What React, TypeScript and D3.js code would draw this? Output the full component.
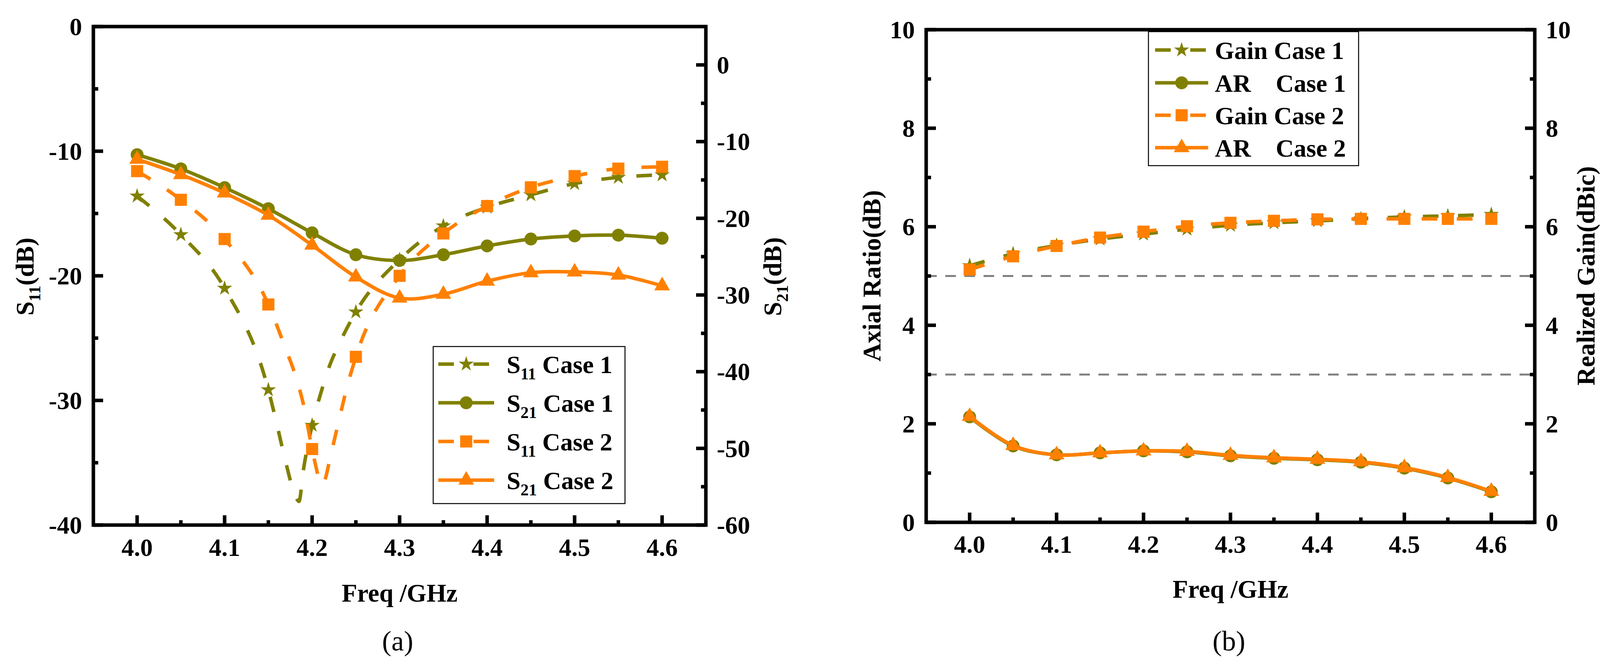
import * as d3 from "d3";

const W = 4137;
const H = 1715;
const OLIVE = "#808000";
const ORANGE = "#FF8000";
const FONT = "Liberation Serif";

// shared frequency grid (GHz)
const freqs = [4.0, 4.05, 4.1, 4.15, 4.2, 4.25, 4.3, 4.35, 4.4, 4.45, 4.5, 4.55, 4.6];
const xTicks = [4.0, 4.1, 4.2, 4.3, 4.4, 4.5, 4.6];
const xMinor = [4.05, 4.15, 4.25, 4.35, 4.45, 4.55];

// panel (a): S-parameters
const s11Case1 = [-13.6, -16.7, -21.0, -29.15, -32.0, -22.9, -18.7, -16.0, -14.5, -13.5, -12.6, -12.1, -11.9];
const s11Case1Dip: [number, number][] = [
  [4.16, -32.0], [4.17, -35.0], [4.18, -37.5], [4.185, -38.1], [4.19, -35.6],
  [4.21, -29.4], [4.22, -27.2], [4.23, -25.6],
];
const s21Case1 = [-11.7, -13.55, -16.0, -18.75, -21.9, -24.75, -25.5, -24.75, -23.6, -22.7, -22.3, -22.2, -22.6];
const s11Case2 = [-11.6, -13.9, -17.05, -22.3, -33.9, -26.5, -20.0, -16.6, -14.4, -12.9, -12.0, -11.4, -11.25];
const s11Case2Dip: [number, number][] = [
  [4.17, -25.9], [4.18, -27.8], [4.19, -30.3], [4.205, -35.5], [4.21, -36.8],
  [4.215, -36.3], [4.22, -34.8], [4.23, -31.8], [4.24, -28.9],
];
const s21Case2 = [-12.3, -14.3, -16.7, -19.6, -23.5, -27.65, -30.4, -29.9, -28.2, -27.1, -27.0, -27.4, -28.8];
const aLeftTicks = [-40, -30, -20, -10, 0];
const aLeftMinor = [-35, -25, -15, -5];
const aRightTicks = [-60, -50, -40, -30, -20, -10, 0];
const aRightMinor = [-55, -45, -35, -25, -15, -5];

// panel (b): gain and axial ratio
const gainCase1 = [5.21, 5.45, 5.62, 5.75, 5.85, 5.95, 6.03, 6.08, 6.12, 6.16, 6.2, 6.22, 6.25];
const arCase1 = [2.14, 1.55, 1.37, 1.41, 1.45, 1.43, 1.35, 1.3, 1.27, 1.22, 1.1, 0.9, 0.62];
const gainCase2 = [5.13, 5.4, 5.61, 5.78, 5.9, 6.01, 6.08, 6.12, 6.15, 6.16, 6.16, 6.16, 6.16];
const arCase2 = [2.15, 1.56, 1.37, 1.41, 1.45, 1.44, 1.36, 1.31, 1.28, 1.23, 1.11, 0.91, 0.63];
const bTicks = [0, 2, 4, 6, 8, 10];
const bMinor = [1, 3, 5, 7, 9];
const refLines = [5, 3];

type Sym = "star" | "circle" | "square" | "triangle";
type Scale = d3.ScaleLinear<number, number>;

const symbolOf: Record<Sym, d3.SymbolType> = {
  star: d3.symbolStar,
  circle: d3.symbolCircle,
  square: d3.symbolSquare,
  triangle: d3.symbolTriangle,
};
const sizeOf: Record<Sym, number> = { star: 470, circle: 850, square: 961, triangle: 700 };
const symPath = (s: Sym) => d3.symbol().type(symbolOf[s]).size(sizeOf[s])() || "";

interface Series {
  values: number[];
  extra?: [number, number][];
  axis: "left" | "right";
  color: string;
  dashed: boolean;
  sym: Sym;
}

interface Frame {
  x0: number;
  x1: number;
  y0: number;
  y1: number;
}

const DASH = "40 50";
const txt = { fontFamily: FONT, fontWeight: 700 as const, fill: "#000" };

function Axes({
  f, x, yL, yR, left, leftMinor, right, rightMinor, xLabelDy,
}: {
  f: Frame; x: Scale; yL: Scale; yR: Scale;
  left: number[]; leftMinor: number[]; right: number[]; rightMinor: number[]; xLabelDy: number;
}) {
  const tick = (key: string, x1: number, y1: number, x2: number, y2: number) => (
    <line key={key} x1={x1} y1={y1} x2={x2} y2={y2} stroke="#000" strokeWidth={9} />
  );
  return (
    <g>
      {xTicks.map((v) => tick(`xt${v}`, x(v), f.y1, x(v), f.y1 - 25))}
      {xMinor.map((v) => tick(`xm${v}`, x(v), f.y1, x(v), f.y1 - 12.5))}
      {left.map((v) => tick(`lt${v}`, f.x0, yL(v), f.x0 + 25, yL(v)))}
      {leftMinor.map((v) => tick(`lm${v}`, f.x0, yL(v), f.x0 + 12.5, yL(v)))}
      {right.map((v) => tick(`rt${v}`, f.x1, yR(v), f.x1 - 25, yR(v)))}
      {rightMinor.map((v) => tick(`rm${v}`, f.x1, yR(v), f.x1 - 12.5, yR(v)))}
      <rect x={f.x0} y={f.y0} width={f.x1 - f.x0} height={f.y1 - f.y0} fill="none" stroke="#000" strokeWidth={9} />
      {xTicks.map((v) => (
        <text key={`xl${v}`} x={x(v)} y={f.y1 + xLabelDy} textAnchor="middle" fontSize={64} style={txt}>
          {v.toFixed(1)}
        </text>
      ))}
      {left.map((v) => (
        <text key={`ll${v}`} x={f.x0 - 29} y={yL(v) + 22} textAnchor="end" fontSize={64} style={txt}>
          {String(v)}
        </text>
      ))}
      {right.map((v) => (
        <text key={`rl${v}`} x={f.x1 + 28} y={yR(v) + 22} textAnchor="start" fontSize={64} style={txt}>
          {String(v)}
        </text>
      ))}
    </g>
  );
}

function Curves({ list, x, yL, yR, curveFor }: {
  list: Series[]; x: Scale; yL: Scale; yR: Scale; curveFor: (s: Series) => d3.CurveFactory;
}) {
  return (
    <g>
      {list.map((s, si) => {
        const y = s.axis === "left" ? yL : yR;
        const pts: [number, number][] = freqs.map((f, i) => [f, s.values[i]] as [number, number]);
        const all = pts.concat(s.extra || []).sort((a, b) => a[0] - b[0]);
        const line = d3
          .line<[number, number]>()
          .x((d) => x(d[0]))
          .y((d) => y(d[1]))
          .curve(curveFor(s));
        const mark = symPath(s.sym);
        return (
          <g key={si}>
            <path d={line(all) || ""} fill="none" stroke={s.color} strokeWidth={9} strokeDasharray={s.dashed ? DASH : undefined} />
            {pts.map((d, i) => (
              <path key={i} d={mark} fill={s.color} transform={`translate(${x(d[0])},${y(d[1])})`} />
            ))}
          </g>
        );
      })}
    </g>
  );
}

interface LegendEntry {
  color: string;
  dashed: boolean;
  sym: Sym;
  label: () => JSX.Element;
}

function Legend({ box, rows, sample, textX, entries }: {
  box: Frame; rows: number[]; sample: [number, number]; textX: number; entries: LegendEntry[];
}) {
  const mx = (sample[0] + sample[1]) / 2;
  return (
    <g>
      <rect x={box.x0} y={box.y0} width={box.x1 - box.x0} height={box.y1 - box.y0} fill="#fff" stroke="#000" strokeWidth={2.5} />
      {entries.map((e, i) => (
        <g key={i}>
          <line x1={sample[0]} x2={sample[1]} y1={rows[i]} y2={rows[i]} stroke={e.color} strokeWidth={9}
            strokeDasharray={e.dashed ? DASH : undefined} />
          <path d={symPath(e.sym)} fill={e.color} transform={`translate(${mx},${rows[i]})`} />
          <text x={textX} y={rows[i] + 23} fontSize={64} style={txt}>
            {e.label()}
          </text>
        </g>
      ))}
    </g>
  );
}

const sLabel = (sub: string, rest: string) => () => (
  <>
    <tspan>S</tspan>
    <tspan fontSize={42} dy={16}>{sub}</tspan>
    <tspan dy={-16}>{"\u00a0" + rest}</tspan>
  </>
);
const arLabel = (rest: string, caseX: number) => () => (
  <>
    <tspan>AR</tspan>
    <tspan x={caseX}>{rest}</tspan>
  </>
);
const plainLabel = (s: string) => () => <>{s}</>;

function VTitle({ x, y, children }: { x: number; y: number; children: React.ReactNode }) {
  return (
    <text transform={`translate(${x},${y}) rotate(-90)`} textAnchor="middle" fontSize={65} style={txt}>
      {children}
    </text>
  );
}

export default function App() {
  // ---------- panel (a) ----------
  const fa: Frame = { x0: 239, x1: 1807, y0: 68, y1: 1344 };
  const xa = d3.scaleLinear().domain([3.95, 4.65]).range([fa.x0, fa.x1]);
  const yaL = d3.scaleLinear().domain([-40, 0]).range([fa.y1, fa.y0]);
  const yaR = d3.scaleLinear().domain([-60, 5]).range([fa.y1, fa.y0]);
  const seriesA: Series[] = [
    { values: s11Case1, extra: s11Case1Dip, axis: "left", color: OLIVE, dashed: true, sym: "star" },
    { values: s21Case1, axis: "right", color: OLIVE, dashed: false, sym: "circle" },
    { values: s11Case2, extra: s11Case2Dip, axis: "left", color: ORANGE, dashed: true, sym: "square" },
    { values: s21Case2, axis: "right", color: ORANGE, dashed: false, sym: "triangle" },
  ];

  // ---------- panel (b) ----------
  const fb: Frame = { x0: 2371, x1: 3929, y0: 76, y1: 1337 };
  const xb = d3.scaleLinear().domain([3.95, 4.65]).range([fb.x0, fb.x1]);
  const ybL = d3.scaleLinear().domain([0, 10]).range([fb.y1, fb.y0]);
  const ybR = d3.scaleLinear().domain([0, 10]).range([fb.y1, fb.y0]);
  const seriesB: Series[] = [
    { values: gainCase1, axis: "right", color: OLIVE, dashed: true, sym: "star" },
    { values: arCase1, axis: "left", color: OLIVE, dashed: false, sym: "circle" },
    { values: gainCase2, axis: "right", color: ORANGE, dashed: true, sym: "square" },
    { values: arCase2, axis: "left", color: ORANGE, dashed: false, sym: "triangle" },
  ];

  return (
    <svg
      width={W}
      height={H}
      viewBox={`0 0 ${W} ${H}`}
      style={{ position: "absolute", left: 0, top: 0, background: "#fff", fontFamily: FONT }}
    >
      {/* panel (a) */}
      <Curves list={seriesA} x={xa} yL={yaL} yR={yaR}
        curveFor={(s) => (s.extra ? d3.curveMonotoneX : d3.curveCatmullRom.alpha(0.5))} />
      <Axes f={fa} x={xa} yL={yaL} yR={yaR} left={aLeftTicks} leftMinor={aLeftMinor}
        right={aRightTicks} rightMinor={aRightMinor} xLabelDy={79} />
      <Legend box={{ x0: 1109, x1: 1600, y0: 887, y1: 1289 }} rows={[932, 1031, 1130, 1229]}
        sample={[1122, 1265]} textX={1297}
        entries={[
          { color: OLIVE, dashed: true, sym: "star", label: sLabel("11", "Case 1") },
          { color: OLIVE, dashed: false, sym: "circle", label: sLabel("21", "Case 1") },
          { color: ORANGE, dashed: true, sym: "square", label: sLabel("11", "Case 2") },
          { color: ORANGE, dashed: false, sym: "triangle", label: sLabel("21", "Case 2") },
        ]} />
      <VTitle x={86} y={708}>
        <tspan>S</tspan>
        <tspan fontSize={43} dy={17}>11</tspan>
        <tspan dy={-17}>(dB)</tspan>
      </VTitle>
      <VTitle x={2000} y={708}>
        <tspan>S</tspan>
        <tspan fontSize={43} dy={17}>21</tspan>
        <tspan dy={-17}>(dB)</tspan>
      </VTitle>
      <text x={(fa.x0 + fa.x1) / 2} y={1540} textAnchor="middle" fontSize={65} style={txt}>Freq /GHz</text>
      <text x={1018} y={1665} textAnchor="middle" fontSize={72} style={{ ...txt, fontWeight: 400 }}>(a)</text>

      {/* panel (b) */}
      {refLines.map((v) => (
        <line key={v} x1={fb.x0} x2={fb.x1} y1={ybL(v)} y2={ybL(v)} stroke="#808080" strokeWidth={5} strokeDasharray="27 22" />
      ))}
      <Curves list={seriesB} x={xb} yL={ybL} yR={ybR} curveFor={() => d3.curveCatmullRom.alpha(0.5)} />
      <Axes f={fb} x={xb} yL={ybL} yR={ybR} left={bTicks} leftMinor={bMinor}
        right={bTicks} rightMinor={bMinor} xLabelDy={78} />
      <Legend box={{ x0: 2940, x1: 3478, y0: 81, y1: 424 }} rows={[128, 212, 295, 378]}
        sample={[2957, 3093]} textX={3110}
        entries={[
          { color: OLIVE, dashed: true, sym: "star", label: plainLabel("Gain Case 1") },
          { color: OLIVE, dashed: false, sym: "circle", label: arLabel("Case 1", 3266) },
          { color: ORANGE, dashed: true, sym: "square", label: plainLabel("Gain Case 2") },
          { color: ORANGE, dashed: false, sym: "triangle", label: arLabel("Case 2", 3266) },
        ]} />
      <VTitle x={2254} y={706}>Axial Ratio(dB)</VTitle>
      <VTitle x={4082} y={706}>Realized Gain(dBic)</VTitle>
      <text x={(fb.x0 + fb.x1) / 2} y={1530} textAnchor="middle" fontSize={65} style={txt}>Freq /GHz</text>
      <text x={3146} y={1665} textAnchor="middle" fontSize={72} style={{ ...txt, fontWeight: 400 }}>(b)</text>
    </svg>
  );
}
